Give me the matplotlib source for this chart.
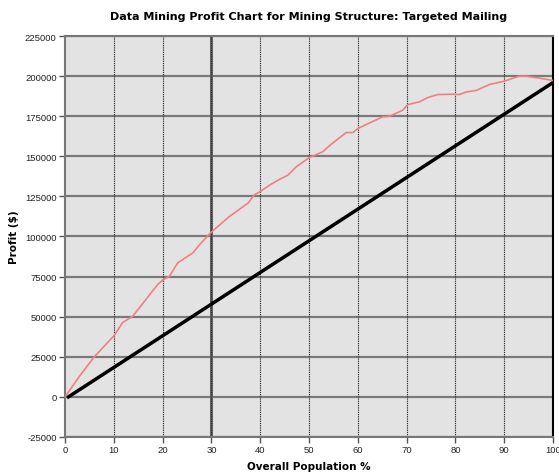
import numpy as np
import matplotlib.pyplot as plt

# Curva de ganancia
pob_pct = [0, 3, 6.0, 10, 11.8, 13.9, 16.6, 19.0, 20, 21.4, 23.1, 26.2, 27.6, 30, 31.7,
           33.7, 37.5, 38.8, 40, 41.9, 44.0, 45.7, 47.4, 50.1, 52.8, 54.5, 57.6, 59,
           60, 62.4, 65.1, 66.5, 69.2, 70.2, 72.6, 74.3, 76.4, 79.5, 80.8, 82.2, 84.3,
           87.0, 90.1, 93.1, 94.5, 97.2, 100]
ganancia = [0, 13000, 25000, 38000, 46300, 50400, 60800, 70100, 72800, 75200, 83600,
            89800, 95000, 102800, 107300, 112500, 120800, 126000, 128000, 132000,
            135700, 138300, 143500, 149300, 152800, 157400, 164800, 164800, 167300,
            170800, 174600, 175000, 178700, 182200, 183900, 186600, 188500, 188700,
            188500, 190100, 191100, 194800, 196900, 200000, 200000, 198700, 197300]

# Linea aleatoria (referencia)
rand_x = [0.7, 100]
rand_y = [0, 196000]

yticks = np.arange(-25000, 225001, 25000)
xticks = np.arange(0, 101, 10)

fig = plt.figure(figsize=(5.59, 4.77), dpi=100)
ax = fig.add_axes([0.1163, 0.0818, 0.8730, 0.8406])
ax.set_facecolor('#e3e3e3')

for yv in yticks:
    ax.axhline(yv, color='#7a7a7a', lw=1.6, zorder=1)
for xv in xticks[1:-1]:
    if xv == 30:
        ax.axvline(xv, color='#666666', lw=2.2, zorder=1)
        ax.axvline(xv, color='#222222', lw=0.8, ls=(0, (1, 1)), zorder=1)
    else:
        ax.axvline(xv, color='#333333', lw=0.8, ls=(0, (1.2, 0.8)), zorder=1)

ax.plot(rand_x, rand_y, color='black', lw=2.5, zorder=3)
ax.plot(pob_pct, ganancia, color='#f08080', lw=1.2, zorder=4)

ax.set_xlim(0, 100)
ax.set_ylim(-25000, 225000)
ax.set_xticks(xticks)
ax.set_yticks(yticks)
ax.set_xticklabels([str(v) for v in xticks])
ax.set_yticklabels([str(v) for v in yticks])
ax.tick_params(labelsize=6.8, length=4, width=1, color='#555555', labelcolor='#222222',
               pad=2)
for lbl in ax.get_xticklabels() + ax.get_yticklabels():
    lbl.set_family('Liberation Sans')

for s in ['left', 'bottom', 'top']:
    ax.spines[s].set_color('#777777')
    ax.spines[s].set_linewidth(1.5)
ax.spines['right'].set_color('black')
ax.spines['right'].set_linewidth(1.5)

ax.set_title('Data Mining Profit Chart for Mining Structure: Targeted Mailing',
             fontsize=8, fontweight='bold', pad=12)
ax.set_xlabel('Overall Population %', fontsize=7.5, fontweight='bold', labelpad=5)
ax.set_ylabel('Profit ($)', fontsize=7.5, fontweight='bold', labelpad=4)

fig.savefig('out.png', dpi=100)
